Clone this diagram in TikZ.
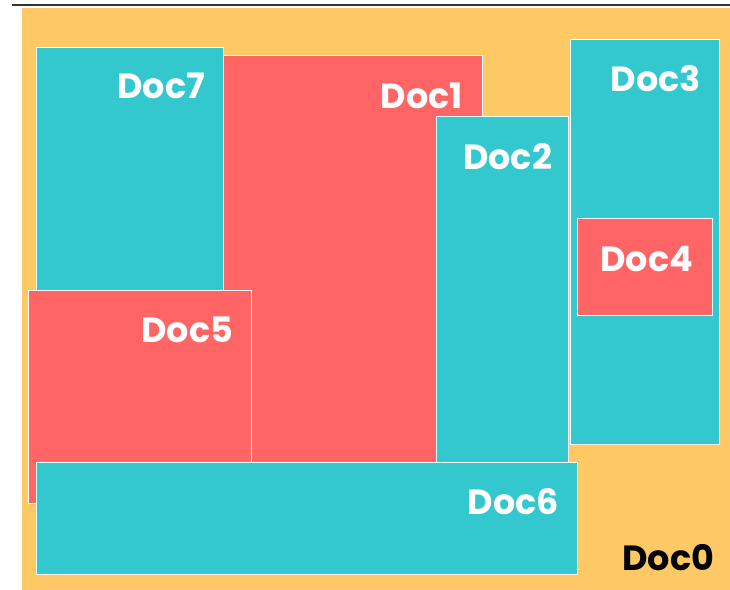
\documentclass[tikz,border=0pt]{standalone}
\usepackage{fontspec}
\setsansfont{Poppins}
\usetikzlibrary{positioning}
\definecolor{docteal}{RGB}{51,199,206}
\definecolor{docred}{RGB}{255,101,101}
\definecolor{docorange}{RGB}{254,200,100}

\begin{document}
\begin{tikzpicture}[x=1pt,y=-1pt,font=\sffamily\bfseries\fontsize{35}{35}\selectfont]
  \tikzstyle{box}=[draw=white,line width=1.2pt,anchor=north west,inner sep=0pt]
  \tikzstyle{doclabel}=[text=white,inner sep=0pt]
  \useasboundingbox (0,0) rectangle (730,589);
  \draw[line width=1.3pt,black!80] (12,5) -- (730,5);
  % outer document
  \node[box,draw=none,fill=docorange,minimum width=709pt,minimum height=582pt] (doc0) at (21,7) {};
  \node[doclabel,text=black,above left=19pt and 17pt of doc0.south east] {Doc0};
  % nested documents
  \node[box,fill=docteal,minimum width=187pt,minimum height=415pt] (doc7) at (36,47) {};
  \node[doclabel,below left=26pt and 19pt of doc7.north east] {Doc7};
  \node[box,fill=docred,minimum width=259pt,minimum height=407pt] (doc1) at (223,55) {};
  \node[doclabel,below left=28pt and 20pt of doc1.north east] {Doc1};
  \node[box,fill=docteal,minimum width=132pt,minimum height=346pt] (doc2) at (436,116) {};
  \node[doclabel,below left=27pt and 17pt of doc2.north east] {Doc2};
  \node[box,fill=docteal,minimum width=149pt,minimum height=405pt] (doc3) at (570,39) {};
  \node[doclabel,below left=26pt and 19pt of doc3.north east] {Doc3};
  \node[box,fill=docred,minimum width=135pt,minimum height=97pt] (doc4) at (577,218) {};
  \node[doclabel,below left=28pt and 20pt of doc4.north east] {Doc4};
  \node[box,fill=docred,minimum width=223pt,minimum height=213pt] (doc5) at (28,290) {};
  \node[doclabel,below left=27pt and 19pt of doc5.north east] {Doc5};
  \node[box,fill=docteal,minimum width=541pt,minimum height=112pt] (doc6) at (36,462) {};
  \node[doclabel,below left=26pt and 19pt of doc6.north east] {Doc6};
\end{tikzpicture}
\end{document}
